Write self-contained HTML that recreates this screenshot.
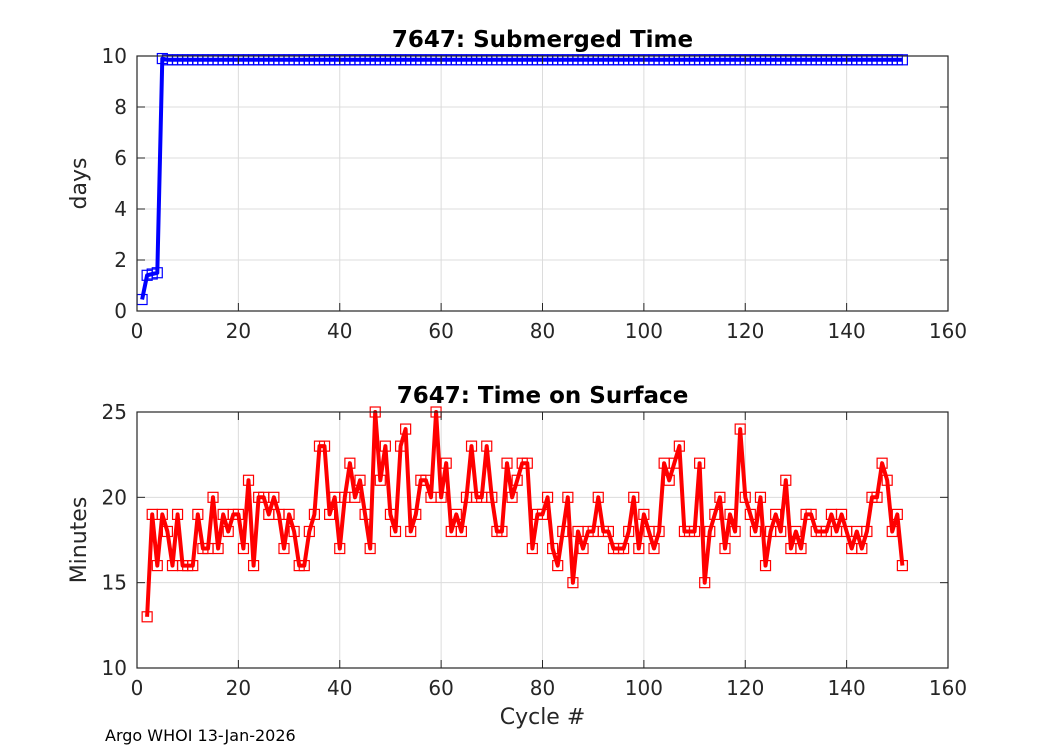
<!DOCTYPE html>
<html><head><meta charset="utf-8"><style>
body{margin:0;background:#fff;width:1050px;height:750px;overflow:hidden;font-family:"Liberation Sans","DejaVu Sans",sans-serif}
svg text{font-family:"DejaVu Sans","Liberation Sans",sans-serif}
</style></head><body>
<svg id="c" width="1050" height="750"></svg>
<script>
const topCycles=[1,2,3,4,5];
const topDays=[0.45,1.4,1.45,1.5,9.9];
const topRestDays=9.85;
const topLastCycle=151;
const botCycles=[];for(let c=2;c<=151;c++)botCycles.push(c);
const botMinutes=[13,19,16,19,18,16,19,16,16,16,19,17,17,20,17,19,18,19,19,17,21,16,20,20,19,20,19,17,19,18,16,16,18,19,23,23,19,20,17,20,22,20,21,19,17,25,21,23,19,18,23,24,18,19,21,21,20,25,20,22,18,19,18,20,23,20,20,23,20,18,18,22,20,21,22,22,17,19,19,20,17,16,18,20,15,18,17,18,18,20,18,18,17,17,17,18,20,17,19,18,17,18,22,21,22,23,18,18,18,22,15,18,19,20,17,19,18,24,20,19,18,20,16,18,19,18,21,17,18,17,19,19,18,18,18,19,18,19,18,17,18,17,18,20,20,22,21,18,19,16];
const xTicks=[0,20,40,60,80,100,120,140,160];
const topYTicks=[0,2,4,6,8,10];
const botYTicks=[10,15,20,25];
const NS='http://www.w3.org/2000/svg';
const svg=document.getElementById('c');
function mk(t,a,p){const e=document.createElementNS(NS,t);for(const k in a)e.setAttribute(k,a[k]);(p||svg).appendChild(e);return e;}
const L=137,R=948;
const xs=v=>L+(v/160)*(R-L);
function panel(top,bot,ymin,ymax,yticks,title,ylabel,color,xsArr,ysArr,name){
  const ys=v=>bot-(v-ymin)/(ymax-ymin)*(bot-top);
  const g=mk('g',{});
  
  
  mk('rect',{x:L,y:top,width:R-L,height:bot-top,fill:'#fff'},g);
  xTicks.forEach(t=>{mk('line',{x1:xs(t),x2:xs(t),y1:top,y2:bot,stroke:'#dcdcdc','stroke-width':1},g);});
  yticks.forEach(t=>{mk('line',{x1:L,x2:R,y1:ys(t),y2:ys(t),stroke:'#dcdcdc','stroke-width':1},g);});
  let d='';xsArr.forEach((x,i)=>{d+=(i?'L':'M')+xs(x).toFixed(1)+' '+ys(ysArr[i]).toFixed(1);});
  const ln=mk('path',{d:d,fill:'none',stroke:color,'stroke-width':4,'stroke-linejoin':'round'},g);
  
  
  xsArr.forEach((x,i)=>{const m=mk('rect',{x:xs(x)-5,y:ys(ysArr[i])-5,width:10,height:10,fill:'none',stroke:color,'stroke-width':1.2},g);
    
    });
  mk('rect',{x:L,y:top,width:R-L,height:bot-top,fill:'none',stroke:'#262626','stroke-width':1.2},g);
  xTicks.forEach(t=>{mk('line',{x1:xs(t),x2:xs(t),y1:bot,y2:bot-8,stroke:'#262626'},g);mk('line',{x1:xs(t),x2:xs(t),y1:top,y2:top+8,stroke:'#262626'},g);
    const tx=mk('text',{x:xs(t),y:bot+27,'text-anchor':'middle','font-size':20,fill:'#262626'},g);tx.textContent=t;
    
    });
  yticks.forEach(t=>{mk('line',{x1:L,x2:L+8,y1:ys(t),y2:ys(t),stroke:'#262626'},g);mk('line',{x1:R,x2:R-8,y1:ys(t),y2:ys(t),stroke:'#262626'},g);
    const tx=mk('text',{x:L-10,y:ys(t)+7,'text-anchor':'end','font-size':20,fill:'#262626'},g);tx.textContent=t;
    
    });
  const ti=mk('text',{x:(L+R)/2,y:top-9,'text-anchor':'middle','font-size':23,'font-weight':'bold',fill:'#000'},g);ti.textContent=title;
  
  
  const yl=mk('text',{x:0,y:0,'text-anchor':'middle','font-size':22,fill:'#262626',transform:`translate(${L-51},${(top+bot)/2}) rotate(-90)`},g);yl.textContent=ylabel;
  
  
}
const tX=topCycles.slice(),tY=topDays.slice();
for(let c=topCycles[topCycles.length-1]+1;c<=topLastCycle;c++){tX.push(c);tY.push(topRestDays);}
panel(56,311,0,10,topYTicks,'7647: Submerged Time','days','#0000ff',tX,tY,'submerged-time-panel');
panel(412,668,10,25,botYTicks,'7647: Time on Surface','Minutes','#ff0000',botCycles,botMinutes,'surface-time-panel');
const xl=mk('text',{x:(L+R)/2,y:724,'text-anchor':'middle','font-size':22,fill:'#262626'});xl.textContent='Cycle #';


const ft=mk('text',{x:105,y:741,'font-size':16,fill:'#000'});ft.textContent='Argo WHOI 13-Jan-2026';


</script>
</body></html>
